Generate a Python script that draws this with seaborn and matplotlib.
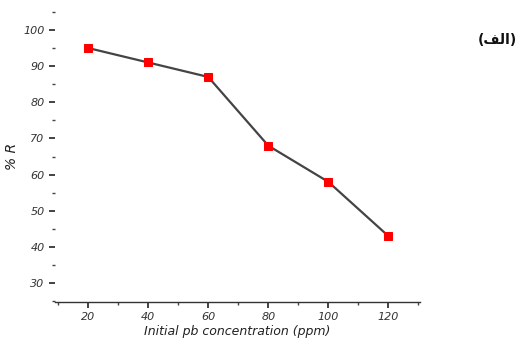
import matplotlib
matplotlib.use("Agg")
import matplotlib.pyplot as plt
import seaborn as sns
import pandas as pd
from matplotlib.ticker import MultipleLocator

concentration = [20, 40, 60, 80, 100, 120]
removal = [95, 91, 87, 68, 58, 43]
x_label = "Initial pb concentration (ppm)"
y_label = "% R"
panel_label = "(\uFED2\uFEDF\uFE8D)"

sns.set_theme(style="white")
plt.rcParams['font.family'] = ['DejaVu Sans']

df = pd.DataFrame({"c": concentration, "r": removal})

fig = plt.figure(figsize=(5.23, 3.49), dpi=100)
ax = fig.add_axes([55/523, 1 - 302/349, (420-55)/523, (302-10)/349])

sns.lineplot(data=df, x="c", y="r", ax=ax, color="#444444", linewidth=1.6,
             marker="s", markersize=6, markerfacecolor="#ff0000",
             markeredgecolor="#ff0000", zorder=3)

ax.set_xlim(9, 130.5)
ax.set_ylim(24.8, 105.5)
ax.xaxis.set_major_locator(MultipleLocator(20))
ax.xaxis.set_minor_locator(MultipleLocator(10))
ax.yaxis.set_major_locator(MultipleLocator(10))
ax.yaxis.set_minor_locator(MultipleLocator(5))
ax.set_yticks([30, 40, 50, 60, 70, 80, 90, 100])

for s in ["top", "right", "left"]:
    ax.spines[s].set_visible(False)
ax.spines["bottom"].set_color("#333333")
ax.spines["bottom"].set_linewidth(1.0)

ax.tick_params(axis="both", which="major", direction="out", length=4, width=1.2,
               color="#222222", labelsize=8, labelcolor="#333333", bottom=True, left=True)
ax.tick_params(axis="both", which="minor", direction="out", length=2, width=1.0,
               color="#444444", bottom=True, left=True)
for lbl in ax.get_xticklabels() + ax.get_yticklabels():
    lbl.set_fontstyle("italic")

ax.set_xlabel(x_label, fontsize=9, fontstyle="italic", color="#222222", labelpad=2)
ax.set_ylabel(y_label, fontsize=10, fontstyle="italic", color="#222222")
ax.yaxis.set_label_coords(-0.10, 0.50)

fig.text(497/523, 1 - 40/349, panel_label, fontsize=10, fontweight="bold",
         ha="center", va="center", color="#111111")

fig.savefig("out.png", dpi=100)
